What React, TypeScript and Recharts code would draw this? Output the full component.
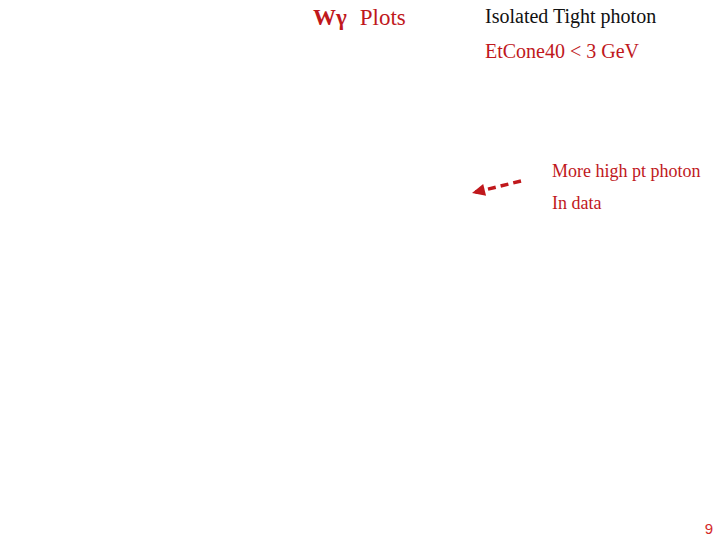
import { LineChart, Line, XAxis, YAxis, ReferenceDot } from "recharts";

// Slide is laid out in page units: x to the right, y downward (text baseline)
const W = 720;
const H = 540;

const RED = "#c0181c";

// Text notes on the slide
const noteX = [313, 485, 485, 552, 552];
const noteY = [25, 23, 58, 177, 209];
const noteParts = [
  ["Wγ", "Plots"],
  ["Isolated Tight photon"],
  ["EtCone40 < 3 GeV"],
  ["More high pt photon"],
  ["In data"],
];

// Page number, bottom right
const pageNo = "9";
const pageX = 713;
const pageY = 534;

// Dashed arrow pointing at the high-pt region
const arrowX = [521, 472];
const arrowY = [181, 193];

const arrowData = arrowX.map((x, i) => ({ x, y: arrowY[i] }));

const SERIF = "'Liberation Serif', 'Times New Roman', serif";

const noteStyle = [
  { size: 23, color: RED, bold: [true, false], gap: 13 },
  { size: 20, color: "#111", bold: [false], gap: 0 },
  { size: 20, color: RED, bold: [false], gap: 0 },
  { size: 18, color: RED, bold: [false], gap: 0 },
  { size: 18, color: RED, bold: [false], gap: 0 },
];

function ArrowHead(props: any) {
  const { cx, cy, index } = props;
  if (index !== arrowData.length - 1) return <g key={index} />;
  const ang = Math.atan2(arrowY[1] - arrowY[0], arrowX[1] - arrowX[0]);
  const len = 13;
  const wid = 6;
  const bx = cx - len * Math.cos(ang);
  const by = cy - len * Math.sin(ang);
  const nx = -Math.sin(ang) * wid;
  const ny = Math.cos(ang) * wid;
  return (
    <polygon
      key={index}
      points={`${cx},${cy} ${bx + nx},${by + ny} ${bx - nx},${by - ny}`}
      fill={RED}
    />
  );
}

export default function App() {
  return (
    <div style={{ position: "absolute", left: 0, top: 0, width: W, height: H, background: "#fff" }}>
      <LineChart width={W} height={H} data={arrowData} margin={{ top: 0, right: 0, bottom: 0, left: 0 }}>
        <XAxis type="number" dataKey="x" domain={[0, W]} hide />
        <YAxis type="number" dataKey="y" domain={[0, H]} reversed hide />
        <Line
          type="linear"
          dataKey="y"
          stroke={RED}
          strokeWidth={3.5}
          strokeDasharray="8 5"
          dot={ArrowHead}
          activeDot={false}
          isAnimationActive={false}
        />
        {noteX.map((x, i) => (
          <ReferenceDot
            key={i}
            x={x}
            y={noteY[i]}
            r={0}
            fill="none"
            stroke="none"
            ifOverflow="visible"
            label={(p: any) => (
              <text
                x={p.viewBox.x}
                y={p.viewBox.y}
                fontFamily={SERIF}
                fontSize={noteStyle[i].size}
                fill={noteStyle[i].color}
              >
                {noteParts[i].map((s, j) => (
                  <tspan
                    key={j}
                    dx={j > 0 ? noteStyle[i].gap : 0}
                    fontSize={noteStyle[i].size}
                    fontWeight={noteStyle[i].bold[j] ? "bold" : "normal"}
                  >
                    {s}
                  </tspan>
                ))}
              </text>
            )}
          />
        ))}
        <ReferenceDot
          x={pageX}
          y={pageY}
          r={0}
          fill="none"
          stroke="none"
          ifOverflow="visible"
          label={(p: any) => (
            <text
              x={p.viewBox.x}
              y={p.viewBox.y}
              textAnchor="end"
              fontFamily="'Liberation Sans', Arial, sans-serif"
              fill="#d42a2a"
            >
              <tspan fontSize={15}>{pageNo}</tspan>
            </text>
          )}
        />
      </LineChart>
    </div>
  );
}
